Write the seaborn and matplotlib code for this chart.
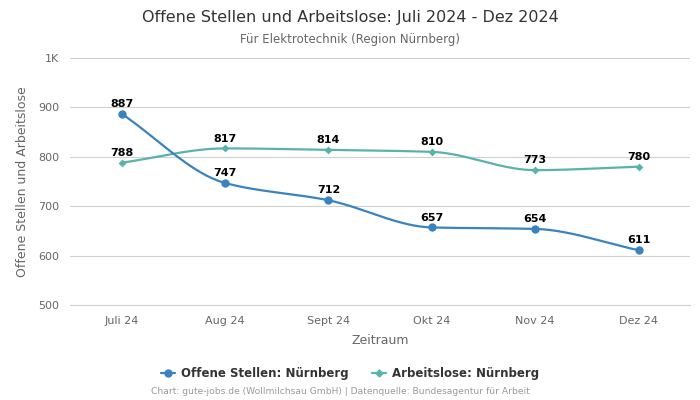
import numpy as np
import pandas as pd
import matplotlib

matplotlib.use('Agg')
import matplotlib.pyplot as plt
import seaborn as sns
from matplotlib.lines import Line2D

monate = ['Juli 24', 'Aug 24', 'Sept 24', 'Okt 24', 'Nov 24', 'Dez 24']
offene_stellen = [887, 747, 712, 657, 654, 611]
arbeitslose = [788, 817, 814, 810, 773, 780]

farbe_stellen = '#3a83bf'
farbe_arbeitslose = '#5ab3ab'


def monoton_glatt(y, schritte=40):
    # monotone kubische Kurve (Fritsch-Carlson) nur fuer die Linienform
    y = np.asarray(y, dtype=float)
    x = np.arange(len(y), dtype=float)
    d = np.diff(y)
    m = np.zeros_like(y)
    m[0], m[-1] = d[0], d[-1]
    for i in range(1, len(y) - 1):
        if d[i - 1] * d[i] > 0:
            m[i] = 2 / (1 / d[i - 1] + 1 / d[i])
    xs, ys = [], []
    for i in range(len(y) - 1):
        t = np.linspace(0, 1, schritte)
        h00 = 2 * t**3 - 3 * t**2 + 1
        h10 = t**3 - 2 * t**2 + t
        h01 = -2 * t**3 + 3 * t**2
        h11 = t**3 - t**2
        xs.append(x[i] + t)
        ys.append(h00 * y[i] + h10 * m[i] + h01 * y[i + 1] + h11 * m[i + 1])
    return np.concatenate(xs), np.concatenate(ys)


df = pd.DataFrame({'pos': range(len(monate)), 'monat': monate,
                   'Offene Stellen': offene_stellen, 'Arbeitslose': arbeitslose})

sns.set_theme(style='whitegrid')
plt.rcParams['font.family'] = ['DejaVu Sans']

fig = plt.figure(figsize=(7, 4), dpi=100)
ax = fig.add_axes([0.1, 0.2375, 0.886, 0.6175])

for spalte, farbe, marker, ms in [('Arbeitslose', farbe_arbeitslose, 'D', 4),
                                  ('Offene Stellen', farbe_stellen, 'o', 6)]:
    gx, gy = monoton_glatt(df[spalte])
    ax.plot(gx, gy, color=farbe, lw=1.6, zorder=2)
    sns.scatterplot(data=df, x='pos', y=spalte, ax=ax, color=farbe, marker=marker,
                    s=ms**2, edgecolor=farbe, linewidth=0, zorder=3, legend=False)
    for px, py in zip(df['pos'], df[spalte]):
        ax.annotate(str(py), (px, py), xytext=(0, 3.5), textcoords='offset points',
                    ha='center', va='bottom', fontsize=8, fontweight='bold', color='black')

ax.set_xlim(-0.5, 5.5)
ax.set_ylim(500, 1000)
ax.set_yticks([500, 600, 700, 800, 900, 1000])
ax.set_yticklabels(['500', '600', '700', '800', '900', '1K'])
ax.set_xticks(range(len(monate)))
ax.set_xticklabels(monate)
ax.tick_params(axis='both', labelsize=8, colors='#666666', length=0, pad=8)
ax.grid(axis='x', visible=False)
ax.grid(axis='y', color='#d0d0d0', linewidth=0.8)
ax.axhline(500, color='#d0d0d0', linewidth=0.8, clip_on=False, zorder=1)
for s in ax.spines.values():
    s.set_visible(False)
ax.set_xlabel('Zeitraum', fontsize=9, color='#666666', labelpad=6)
ax.set_ylabel('Offene Stellen und Arbeitslose', fontsize=9, color='#666666', labelpad=6)

fig.text(0.5, 0.957, 'Offene Stellen und Arbeitslose: Juli 2024 - Dez 2024',
         ha='center', va='center', fontsize=11.5, color='#333333')
fig.text(0.5, 0.902, 'Für Elektrotechnik (Region Nürnberg)',
         ha='center', va='center', fontsize=8.5, color='#666666')

griffe = [Line2D([0], [0], color=farbe_stellen, marker='o', markersize=5, lw=1.6),
          Line2D([0], [0], color=farbe_arbeitslose, marker='D', markersize=3.5, lw=1.6)]
fig.legend(griffe, ['Offene Stellen: Nürnberg', 'Arbeitslose: Nürnberg'],
           loc='center', bbox_to_anchor=(0.5, 0.067), ncol=2, frameon=False,
           prop={'size': 8.5, 'weight': 'bold'}, labelcolor='#333333',
           handlelength=1.2, handletextpad=0.5, columnspacing=2)
fig.text(0.486, 0.02, 'Chart: gute-jobs.de (Wollmilchsau GmbH) | Datenquelle: Bundesagentur für Arbeit',
         ha='center', va='center', fontsize=6.6, color='#999999')

fig.savefig('out.png', dpi=100)
